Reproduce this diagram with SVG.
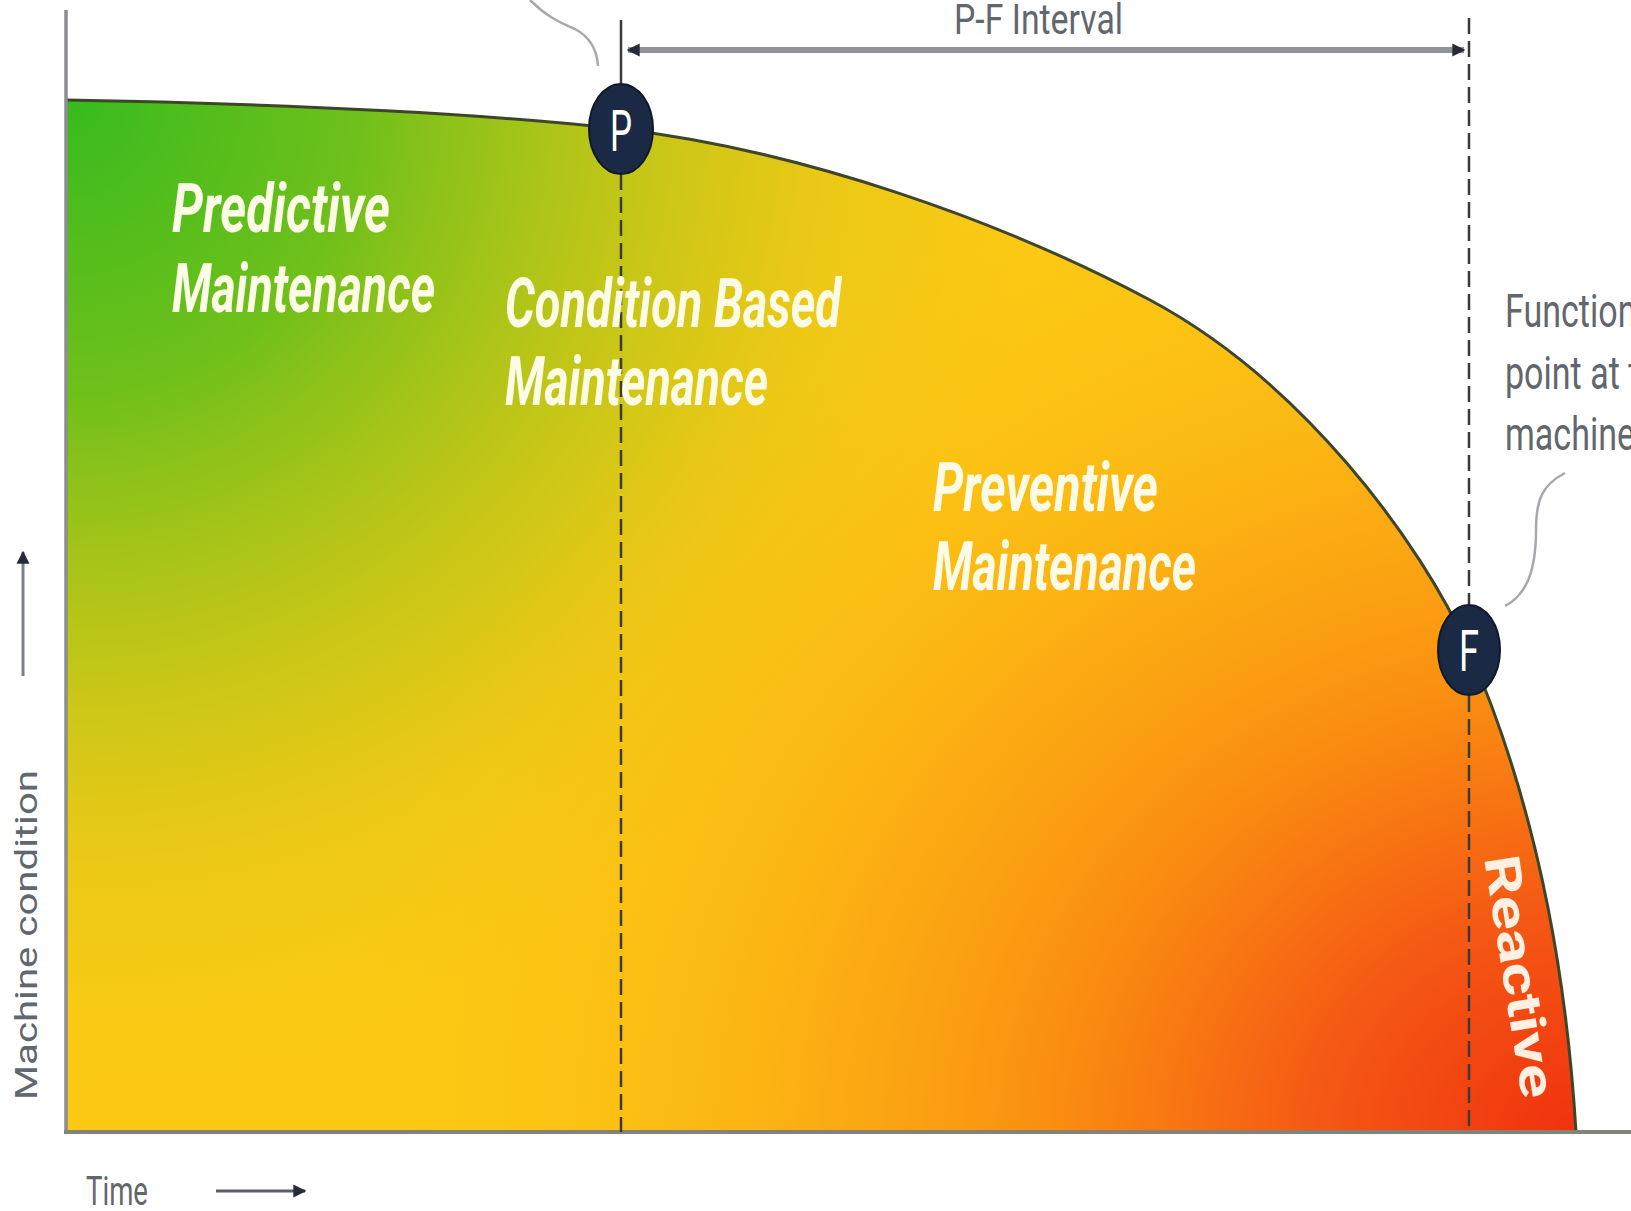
<svg xmlns="http://www.w3.org/2000/svg" width="1631" height="1211" viewBox="0 0 1631 1211">
<style>
.lbl{font-family:Roboto,"Liberation Sans",sans-serif;font-weight:700;font-style:italic;font-size:68px;fill:#fbfbe6}
.gray{font-family:Roboto,"Liberation Sans",sans-serif;fill:#62666d}
.node-t{font-family:Roboto,"Liberation Sans",sans-serif;font-size:58px;fill:#ffffff;text-anchor:middle}
.dash{stroke:#3a3a3a;stroke-width:2.5;stroke-dasharray:16 7;fill:none}
.lead{stroke:#a5a8ad;stroke-width:2.5;fill:none}
</style>
<defs>
<radialGradient id="green" gradientUnits="userSpaceOnUse" cx="66" cy="100" r="980">
<stop offset="0" stop-color="#36bb1e" stop-opacity="1"/>
<stop offset="0.3" stop-color="#4cbd1c" stop-opacity="0.8"/>
<stop offset="0.55" stop-color="#6cc01c" stop-opacity="0.45"/>
<stop offset="0.78" stop-color="#8cc21c" stop-opacity="0.15"/>
<stop offset="1" stop-color="#9cc41c" stop-opacity="0"/>
</radialGradient>
<radialGradient id="red" gradientUnits="userSpaceOnUse" cx="0" cy="0" r="1" gradientTransform="translate(1580,1140) scale(1250,1080)">
<stop offset="0" stop-color="#f0300f" stop-opacity="1"/>
<stop offset="0.22" stop-color="#f55a14" stop-opacity="1"/>
<stop offset="0.42" stop-color="#fa8a10" stop-opacity="0.95"/>
<stop offset="0.62" stop-color="#fba212" stop-opacity="0.7"/>
<stop offset="0.82" stop-color="#fcb412" stop-opacity="0.3"/>
<stop offset="1" stop-color="#fcc012" stop-opacity="0"/>
</radialGradient>
<marker id="ah" viewBox="0 0 10 10" refX="9" refY="5" markerWidth="13" markerHeight="14" markerUnits="userSpaceOnUse" orient="auto-start-reverse">
<path d="M0,0 L10,5 L0,10 z" fill="#262b35"/>
</marker>
<path id="area-shape" d="M66,100 C300,104 500,115 621,129 C800,150 1000,220 1150,300 C1300,380 1420,540 1469,650 C1530,790 1565,950 1576,1132 L66,1132 Z"/>
</defs>
<rect width="1631" height="1211" fill="#ffffff"/>

<g id="area">
<use href="#area-shape" fill="#fcca14"/>
<use href="#area-shape" fill="url(#green)"/>
<use href="#area-shape" fill="url(#red)"/>
<path d="M66,100 C300,104 500,115 621,129 C800,150 1000,220 1150,300 C1300,380 1420,540 1469,650 C1530,790 1565,950 1576,1132" fill="none" stroke="#3e4628" stroke-width="3"/>
</g>

<g id="axes">
<line x1="66" y1="10" x2="66" y2="1132" stroke="#8b8d90" stroke-width="3.5"/>
<line x1="64" y1="1132" x2="1631" y2="1132" stroke="#85827a" stroke-width="4"/>
</g>

<g id="connectors">
<line class="dash" x1="621" y1="174" x2="621" y2="1132"/>
<line x1="621" y1="20" x2="621" y2="84" stroke="#3a3a3a" stroke-width="2.5"/>
<line class="dash" x1="1469" y1="18" x2="1469" y2="604"/>
<line class="dash" x1="1469" y1="696" x2="1469" y2="1132"/>
<line x1="628" y1="50" x2="1464" y2="50" stroke="#909499" stroke-width="6" marker-start="url(#ah)" marker-end="url(#ah)"/>
<path class="lead" d="M530,0 C545,15 558,22 575,29 C590,37 597,50 598,66"/>
<path class="lead" d="M1565,473 C1542,485 1536,500 1536,530 C1536,572 1526,595 1505,606"/>
<line x1="216" y1="1191" x2="305" y2="1191" stroke="#5a5e66" stroke-width="3" marker-end="url(#ah)"/>
<line x1="23" y1="676" x2="23" y2="552" stroke="#7d8187" stroke-width="3" marker-end="url(#ah)"/>
</g>

<g id="node-P">
<ellipse cx="621" cy="129" rx="32" ry="45" fill="#1b2a44" stroke="#10192a" stroke-width="2"/>
<text class="node-t" x="621" y="151" textLength="22" lengthAdjust="spacingAndGlyphs">P</text>
</g>
<g id="node-F">
<ellipse cx="1469" cy="650" rx="31" ry="45" fill="#1b2a44" stroke="#10192a" stroke-width="2"/>
<text class="node-t" x="1469" y="671" textLength="20" lengthAdjust="spacingAndGlyphs">F</text>
</g>

<g id="label-predictive">
<text class="lbl" x="172" y="232" textLength="218" lengthAdjust="spacingAndGlyphs">Predictive</text>
<text class="lbl" x="172" y="312" textLength="263" lengthAdjust="spacingAndGlyphs">Maintenance</text>
</g>
<g id="label-condition">
<text class="lbl" x="505" y="327" textLength="336" lengthAdjust="spacingAndGlyphs">Condition Based</text>
<text class="lbl" x="505" y="405" textLength="263" lengthAdjust="spacingAndGlyphs">Maintenance</text>
</g>
<g id="label-preventive">
<text class="lbl" x="933" y="511" textLength="225" lengthAdjust="spacingAndGlyphs">Preventive</text>
<text class="lbl" x="933" y="590" textLength="263" lengthAdjust="spacingAndGlyphs">Maintenance</text>
</g>
<g id="label-reactive">
<text x="0" y="0" transform="translate(1484,858) rotate(81)" font-family="Roboto,'Liberation Sans',sans-serif" font-weight="700" font-size="49" fill="#fff0e2" textLength="245" lengthAdjust="spacingAndGlyphs">Reactive</text>
</g>

<g id="label-pf">
<text class="gray" x="954" y="34" font-size="42" textLength="169" lengthAdjust="spacingAndGlyphs">P-F Interval</text>
</g>
<g id="label-function" transform="translate(1505,0) scale(0.74,1)">
<text class="gray" x="0" y="327" font-size="46">Function</text>
<text class="gray" x="0" y="389" font-size="46">point at t</text>
<text class="gray" x="0" y="450" font-size="46">machine</text>
</g>
<g id="label-time">
<text class="gray" x="86" y="1205" font-size="40" textLength="62" lengthAdjust="spacingAndGlyphs">Time</text>
</g>
<g id="label-machine">
<text class="gray" x="0" y="0" transform="translate(37,1100) rotate(-90)" font-size="32" textLength="330" lengthAdjust="spacingAndGlyphs">Machine condition</text>
</g>
</svg>
